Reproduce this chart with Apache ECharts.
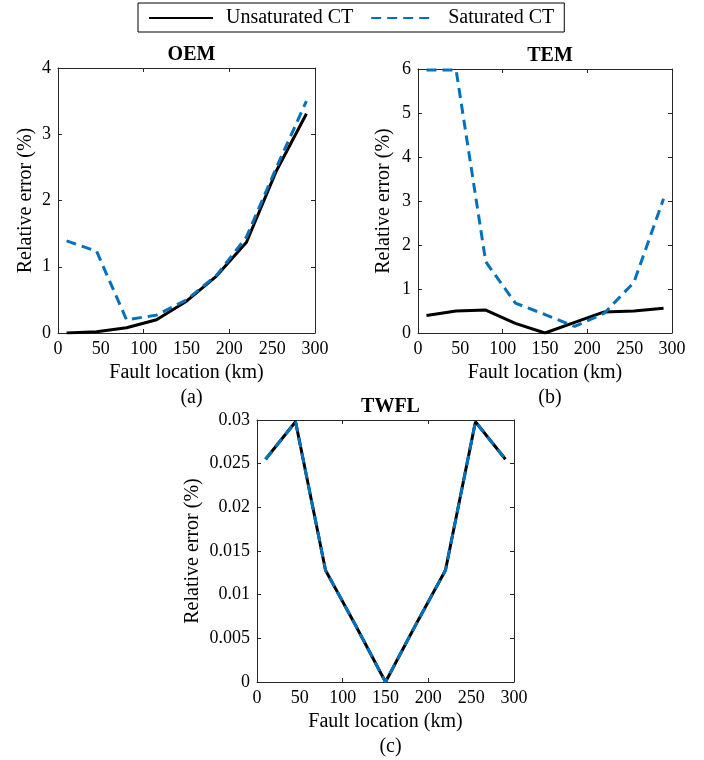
<!DOCTYPE html>
<html>
<head>
<meta charset="utf-8">
<script src="https://cdn.jsdelivr.net/npm/echarts@6/dist/echarts.min.js"></script>
<style>html,body{margin:0;padding:0;background:#fff}#c{width:704px;height:760px}</style>
</head>
<body>
<div id="c"></div>
<script>
const faultKm = [10, 45, 80, 115, 150, 185, 220, 255, 290];
const oemUnsat = [0, 0.02, 0.08, 0.2, 0.48, 0.86, 1.37, 2.45, 3.31];
const oemSat = [1.39, 1.235, 0.2, 0.27, 0.5, 0.87, 1.45, 2.5, 3.5];
const temUnsat = [0.4, 0.5, 0.52, 0.22, 0, 0.24, 0.48, 0.5, 0.56];
const temSat = [5.98, 5.98, 1.62, 0.68, 0.42, 0.15, 0.45, 1.15, 3.05];
const twflUnsat = [0.0255, 0.0298, 0.0128, 0.0065, 0, 0.0065, 0.0128, 0.0298, 0.0255];
const twflSat = [0.0255, 0.0298, 0.0128, 0.0065, 0, 0.0065, 0.0128, 0.0298, 0.0255];
const xTicks = [0, 100, 200, 300];
const panelTitles = ['OEM', 'TEM', 'TWFL'];
const panelTags = ['(a)', '(b)', '(c)'];
const seriesNames = ['Unsaturated CT', 'Saturated CT'];

const FONT = 'Liberation Serif, Times New Roman, serif';
const AX = '#262626';
const BLUE = '#0072BD';
const grids = [
  {left: 58, top: 68, width: 257, height: 265},
  {left: 418, top: 69, width: 254, height: 264},
  {left: 257, top: 420, width: 257, height: 262}
];
const yRanges = [[0, 4, 1], [0, 6, 1], [0, 0.03, 0.005]];
const yGaps = [22, 24, 54];

const pair = (ys) => faultKm.map((x, i) => [x, ys[i]]);
const dataSets = [[oemUnsat, oemSat], [temUnsat, temSat], [twflUnsat, twflSat]];

const xAxis = [], yAxis = [], series = [], title = [];
grids.forEach((g, i) => {
  const axLine = {show: true, onZero: false, lineStyle: {color: AX, width: 1}};
  xAxis.push({
    type: 'value', gridIndex: i, min: 0, max: 300, interval: 50, position: 'bottom',
    axisLine: axLine,
    axisTick: {show: true, inside: true, length: 4, customValues: xTicks, lineStyle: {color: AX}},
    axisLabel: {color: '#000', fontFamily: FONT, fontSize: 18, margin: 7},
    splitLine: {show: false},
    name: 'Fault location (km)', nameLocation: 'middle', nameGap: 30,
    nameTextStyle: {color: '#000', fontFamily: FONT, fontSize: 20}
  });
  xAxis.push({
    type: 'value', gridIndex: i, min: 0, max: 300, interval: 50, position: 'top',
    axisLine: axLine,
    axisTick: {show: true, inside: true, length: 4, customValues: xTicks, lineStyle: {color: AX}},
    axisLabel: {show: false}, splitLine: {show: false}
  });
  const [mn, mx, iv] = yRanges[i];
  yAxis.push({
    type: 'value', gridIndex: i, min: mn, max: mx, interval: iv, position: 'left',
    axisLine: axLine,
    axisTick: {show: true, inside: true, length: 4, lineStyle: {color: AX}},
    axisLabel: {color: '#000', fontFamily: FONT, fontSize: 18, margin: 7,
      formatter: v => String(parseFloat(v.toFixed(4)))},
    splitLine: {show: false},
    name: 'Relative error (%)', nameLocation: 'middle', nameGap: yGaps[i],
    nameTextStyle: {color: '#000', fontFamily: FONT, fontSize: 20}
  });
  yAxis.push({
    type: 'value', gridIndex: i, min: mn, max: mx, interval: iv, position: 'right',
    axisLine: axLine,
    axisTick: {show: true, inside: true, length: 4, lineStyle: {color: AX}},
    axisLabel: {show: false}, splitLine: {show: false}
  });
  series.push({
    name: seriesNames[0], type: 'line', xAxisIndex: 2 * i, yAxisIndex: 2 * i,
    data: pair(dataSets[i][0]), symbol: 'none', showSymbol: false,
    lineStyle: {color: '#000', width: 3}, itemStyle: {color: '#000'}, z: 2, animation: false
  });
  series.push({
    name: seriesNames[1], type: 'line', xAxisIndex: 2 * i, yAxisIndex: 2 * i,
    data: pair(dataSets[i][1]), symbol: 'none', showSymbol: false,
    lineStyle: {color: BLUE, width: 3, type: [10, 6]}, itemStyle: {color: BLUE}, z: 3, animation: false
  });
  const cx = g.left + g.width / 2;
  title.push({
    text: panelTitles[i], left: cx, top: g.top - 28, textAlign: 'center',
    textStyle: {fontFamily: FONT, fontSize: 20, fontWeight: 'bold', color: '#000'}
  });
  title.push({
    text: panelTags[i], left: cx, top: g.top + g.height + 50, textAlign: 'center',
    textStyle: {fontFamily: FONT, fontSize: 20, fontWeight: 'normal', color: '#000'}
  });
});

const chart = echarts.init(document.getElementById('c'), null, {renderer: 'canvas'});
chart.setOption({
  animation: false,
  backgroundColor: '#fff',
  title: title,
  grid: grids.map(g => Object.assign({containLabel: false}, g)),
  xAxis: xAxis,
  yAxis: yAxis,
  legend: {
    data: seriesNames, left: 138, top: 3,
    itemWidth: 64, itemHeight: 14, itemGap: 17,
    padding: [5, 10, 4, 10],
    itemStyle: {opacity: 0},
    borderColor: '#000', borderWidth: 1, backgroundColor: '#fff',
    textStyle: {fontFamily: FONT, fontSize: 20, color: '#000', padding: [0, 0, 0, 8]}
  },
  series: series
});
</script>
</body>
</html>
